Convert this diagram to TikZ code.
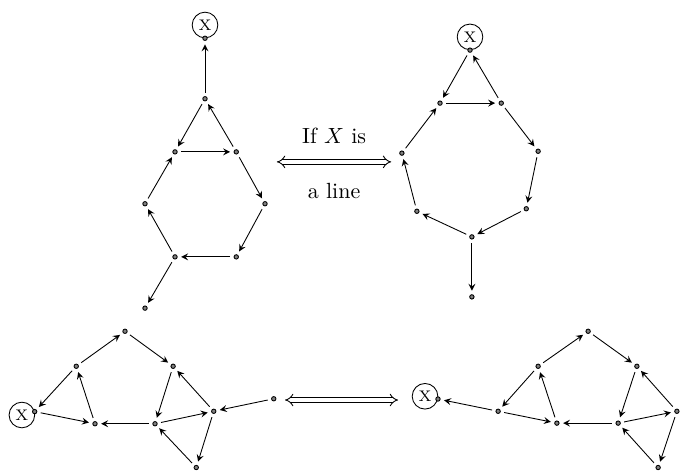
\documentclass[tikz,border=0pt]{standalone}
\usepackage{amsmath, amsfonts}
\usetikzlibrary{arrows}
\tikzset{
  vtx/.style={circle, draw, fill=gray, inner sep=0pt, minimum size=2pt, outer sep=1.8pt},
  xnode/.style={circle, draw, inner sep=0pt, minimum size=0.41cm, font=\scriptsize},
  equiv/.style={double, double distance=1.6pt, implies-implies},
  >=stealth
}
\begin{document}
\begin{tikzpicture}
\useasboundingbox (0,0) rectangle (10.944,7.52);

% top left
\node[xnode] (X1) at (3.28,7.12) {X};
\node[vtx] (x1) at (X1.south) {};
\node[vtx] (a1) at (3.28,5.94) {};
\node[vtx] (b1) at (2.80,5.09) {};
\node[vtx] (c1) at (3.78,5.09) {};
\node[vtx] (d1) at (2.32,4.26) {};
\node[vtx] (e1) at (4.24,4.26) {};
\node[vtx] (f1) at (2.80,3.41) {};
\node[vtx] (g1) at (3.78,3.41) {};
\node[vtx] (h1) at (2.32,2.59) {};
\draw[->] (a1) -- (x1);
\draw[->] (a1) -- (b1);
\draw[->] (c1) -- (a1);
\draw[->] (b1) -- (c1);
\draw[->] (c1) -- (e1);
\draw[->] (e1) -- (g1);
\draw[->] (g1) -- (f1);
\draw[->] (f1) -- (d1);
\draw[->] (d1) -- (b1);
\draw[->] (f1) -- (h1);

\coordinate (l1) at (4.43,4.93);
\coordinate (r1) at (6.26,4.93);
\draw[equiv] (l1) -- node[above=4.5pt] {If $X$ is} node[below=6pt] {a line} (r1);

% top right
\node[xnode] (X2) at (7.52,6.93) {X};
\node[vtx] (x2) at (X2.south) {};
\node[vtx] (b2) at (7.04,5.87) {};
\node[vtx] (c2) at (8.02,5.87) {};
\node[vtx] (d2) at (6.43,5.07) {};
\node[vtx] (e2) at (8.61,5.10) {};
\node[vtx] (f2) at (6.67,4.14) {};
\node[vtx] (g2) at (8.42,4.18) {};
\node[vtx] (k2) at (7.55,3.73) {};
\node[vtx] (h2) at (7.55,2.77) {};
\draw[->] (x2) -- (b2);
\draw[->] (c2) -- (x2);
\draw[->] (b2) -- (c2);
\draw[->] (c2) -- (e2);
\draw[->] (e2) -- (g2);
\draw[->] (g2) -- (k2);
\draw[->] (k2) -- (f2);
\draw[->] (f2) -- (d2);
\draw[->] (d2) -- (b2);
\draw[->] (k2) -- (h2);

% bottom left
\node[xnode] (X3) at (0.35,0.88) {X};
\node[vtx] (x3) at (X3.15) {};
\node[vtx] (a3) at (2.00,2.22) {};
\node[vtx] (b3) at (1.22,1.66) {};
\node[vtx] (c3) at (2.77,1.66) {};
\node[vtx] (d3) at (1.52,0.74) {};
\node[vtx] (e3) at (2.48,0.74) {};
\node[vtx] (f3) at (3.42,0.94) {};
\node[vtx] (g3) at (3.14,0.04) {};
\node[vtx] (h3) at (4.38,1.14) {};
\draw[->] (b3) -- (a3);
\draw[->] (a3) -- (c3);
\draw[->] (b3) -- (x3);
\draw[->] (x3) -- (d3);
\draw[->] (d3) -- (b3);
\draw[->] (c3) -- (e3);
\draw[->] (e3) -- (d3);
\draw[->] (e3) -- (f3);
\draw[->] (f3) -- (c3);
\draw[->] (g3) -- (e3);
\draw[->] (f3) -- (g3);
\draw[->] (h3) -- (f3);

\coordinate (l2) at (4.56,1.12);
\coordinate (r2) at (6.37,1.12);
\draw[equiv] (l2) -- (r2);

% bottom right
\node[xnode] (X4) at (6.80,1.18) {X};
\node[vtx] (x4) at (X4.-12) {};
\node[vtx] (a4) at (9.41,2.22) {};
\node[vtx] (b4) at (8.61,1.66) {};
\node[vtx] (c4) at (10.19,1.66) {};
\node[vtx] (p4) at (7.97,0.94) {};
\node[vtx] (d4) at (8.91,0.75) {};
\node[vtx] (e4) at (9.89,0.75) {};
\node[vtx] (f4) at (10.83,0.94) {};
\node[vtx] (g4) at (10.53,0.04) {};
\draw[->] (b4) -- (a4);
\draw[->] (a4) -- (c4);
\draw[->] (b4) -- (p4);
\draw[->] (p4) -- (x4);
\draw[->] (p4) -- (d4);
\draw[->] (d4) -- (b4);
\draw[->] (c4) -- (e4);
\draw[->] (e4) -- (d4);
\draw[->] (e4) -- (f4);
\draw[->] (f4) -- (c4);
\draw[->] (g4) -- (e4);
\draw[->] (f4) -- (g4);
\end{tikzpicture}
\end{document}
